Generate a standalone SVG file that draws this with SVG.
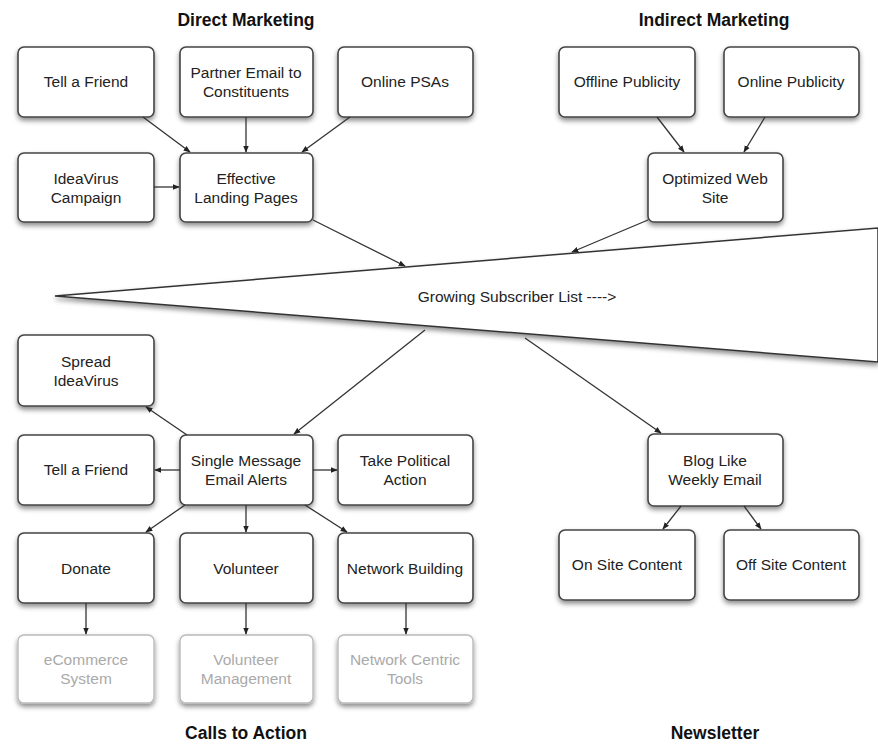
<svg xmlns="http://www.w3.org/2000/svg" width="878" height="744" viewBox="0 0 878 744">
<defs>
<filter id="sh" x="-20%" y="-20%" width="140%" height="150%">
<feDropShadow dx="0" dy="3" stdDeviation="2.5" flood-color="#000" flood-opacity="0.45"/>
</filter>
<marker id="ah" viewBox="0 0 10 10" refX="9" refY="5" markerWidth="7" markerHeight="7" orient="auto" markerUnits="userSpaceOnUse">
<path d="M0,1 L10,5 L0,9 Z" fill="#222"/>
</marker>
<style>
.b{fill:#fff;stroke:#444;stroke-width:1.6;filter:url(#sh)}
.g{fill:#fff;stroke:#bbb;stroke-width:1.4;filter:url(#sh)}
.t{font-family:"Liberation Sans",Arial,sans-serif;font-size:15.5px;fill:#222;text-anchor:middle}
.tg{font-family:"Liberation Sans",Arial,sans-serif;font-size:15.5px;fill:#aaa;text-anchor:middle}
.h{font-family:"Liberation Sans",Arial,sans-serif;font-size:17.5px;font-weight:bold;fill:#111;text-anchor:middle}
.c{stroke:#333;stroke-width:1.3;fill:none;marker-end:url(#ah)}
</style>
</defs>
<rect width="878" height="744" fill="#fff"/>

<text class="h" x="246" y="26">Direct Marketing</text>
<text class="h" x="714" y="26">Indirect Marketing</text>
<text class="h" x="246" y="739">Calls to Action</text>
<text class="h" x="715" y="739">Newsletter</text>

<g id="funnel">
<polygon points="55,296 878,228 878,362" fill="#fff" stroke="#333" stroke-width="1.5" filter="url(#sh)"/>
<text class="t" x="517" y="302">Growing Subscriber List ----&gt;</text>
</g>

<g id="n-tell1"><rect class="b" x="18" y="47" width="136" height="70" rx="6"/><text class="t" x="86" y="87">Tell a Friend</text></g>
<g id="n-partner"><rect class="b" x="180" y="47" width="133" height="70" rx="6"/><text class="t" x="246" y="78">Partner Email to</text><text class="t" x="246" y="97">Constituents</text></g>
<g id="n-psas"><rect class="b" x="338" y="47" width="135" height="70" rx="6"/><text class="t" x="405" y="87">Online PSAs</text></g>
<g id="n-ideavirus"><rect class="b" x="18" y="153" width="136" height="69" rx="6"/><text class="t" x="86" y="184">IdeaVirus</text><text class="t" x="86" y="203">Campaign</text></g>
<g id="n-landing"><rect class="b" x="180" y="153" width="133" height="69" rx="6"/><text class="t" x="246" y="184">Effective</text><text class="t" x="246" y="203">Landing Pages</text></g>

<g id="n-offline"><rect class="b" x="559" y="47" width="136" height="70" rx="6"/><text class="t" x="627" y="87">Offline Publicity</text></g>
<g id="n-onlinepub"><rect class="b" x="724" y="47" width="135" height="70" rx="6"/><text class="t" x="791" y="87">Online Publicity</text></g>
<g id="n-web"><rect class="b" x="648" y="153" width="135" height="69" rx="6"/><text class="t" x="715" y="184">Optimized Web</text><text class="t" x="715" y="203">Site</text></g>

<g id="n-spread"><rect class="b" x="18" y="335" width="136" height="71" rx="6"/><text class="t" x="86" y="367">Spread</text><text class="t" x="86" y="386">IdeaVirus</text></g>
<g id="n-tell2"><rect class="b" x="18" y="435" width="136" height="70" rx="6"/><text class="t" x="86" y="475">Tell a Friend</text></g>
<g id="n-single"><rect class="b" x="180" y="435" width="133" height="70" rx="6"/><text class="t" x="246" y="466">Single Message</text><text class="t" x="246" y="485">Email Alerts</text></g>
<g id="n-political"><rect class="b" x="338" y="435" width="135" height="70" rx="6"/><text class="t" x="405" y="466">Take Political</text><text class="t" x="405" y="485">Action</text></g>
<g id="n-donate"><rect class="b" x="18" y="533" width="136" height="70" rx="6"/><text class="t" x="86" y="574">Donate</text></g>
<g id="n-volunteer"><rect class="b" x="180" y="533" width="133" height="70" rx="6"/><text class="t" x="246" y="574">Volunteer</text></g>
<g id="n-network"><rect class="b" x="338" y="533" width="135" height="70" rx="6"/><text class="t" x="405" y="574">Network Building</text></g>
<g id="n-ecommerce"><rect class="g" x="18" y="635" width="136" height="68" rx="6"/><text class="tg" x="86" y="665">eCommerce</text><text class="tg" x="86" y="684">System</text></g>
<g id="n-volmgmt"><rect class="g" x="180" y="635" width="133" height="68" rx="6"/><text class="tg" x="246" y="665">Volunteer</text><text class="tg" x="246" y="684">Management</text></g>
<g id="n-netcentric"><rect class="g" x="338" y="635" width="135" height="68" rx="6"/><text class="tg" x="405" y="665">Network Centric</text><text class="tg" x="405" y="684">Tools</text></g>

<g id="n-blog"><rect class="b" x="648" y="434" width="135" height="72" rx="6"/><text class="t" x="715" y="466">Blog Like</text><text class="t" x="715" y="485">Weekly Email</text></g>
<g id="n-onsite"><rect class="b" x="559" y="530" width="136" height="70" rx="6"/><text class="t" x="627" y="570">On Site Content</text></g>
<g id="n-offsite"><rect class="b" x="724" y="530" width="135" height="70" rx="6"/><text class="t" x="791" y="570">Off Site Content</text></g>

<g id="connectors">
<line class="c" x1="143" y1="117" x2="190" y2="152"/>
<line class="c" x1="246" y1="117" x2="246" y2="152"/>
<line class="c" x1="350" y1="117" x2="302" y2="152"/>
<line class="c" x1="154" y1="187" x2="179" y2="187"/>
<line class="c" x1="657" y1="117" x2="684" y2="152"/>
<line class="c" x1="765" y1="117" x2="744" y2="152"/>
<line class="c" x1="313" y1="220" x2="405" y2="266"/>
<line class="c" x1="648" y1="220" x2="572" y2="252"/>
<line class="c" x1="425" y1="330" x2="294" y2="434"/>
<line class="c" x1="525" y1="338" x2="661" y2="433"/>
<line class="c" x1="187" y1="435" x2="146" y2="407"/>
<line class="c" x1="180" y1="470" x2="155" y2="470"/>
<line class="c" x1="313" y1="470" x2="337" y2="470"/>
<line class="c" x1="185" y1="505" x2="146" y2="532"/>
<line class="c" x1="246" y1="505" x2="246" y2="532"/>
<line class="c" x1="305" y1="505" x2="347" y2="532"/>
<line class="c" x1="86" y1="603" x2="86" y2="634"/>
<line class="c" x1="246" y1="603" x2="246" y2="634"/>
<line class="c" x1="406" y1="603" x2="406" y2="634"/>
<line class="c" x1="681" y1="506" x2="663" y2="529"/>
<line class="c" x1="744" y1="506" x2="761" y2="529"/>
</g>
</svg>
